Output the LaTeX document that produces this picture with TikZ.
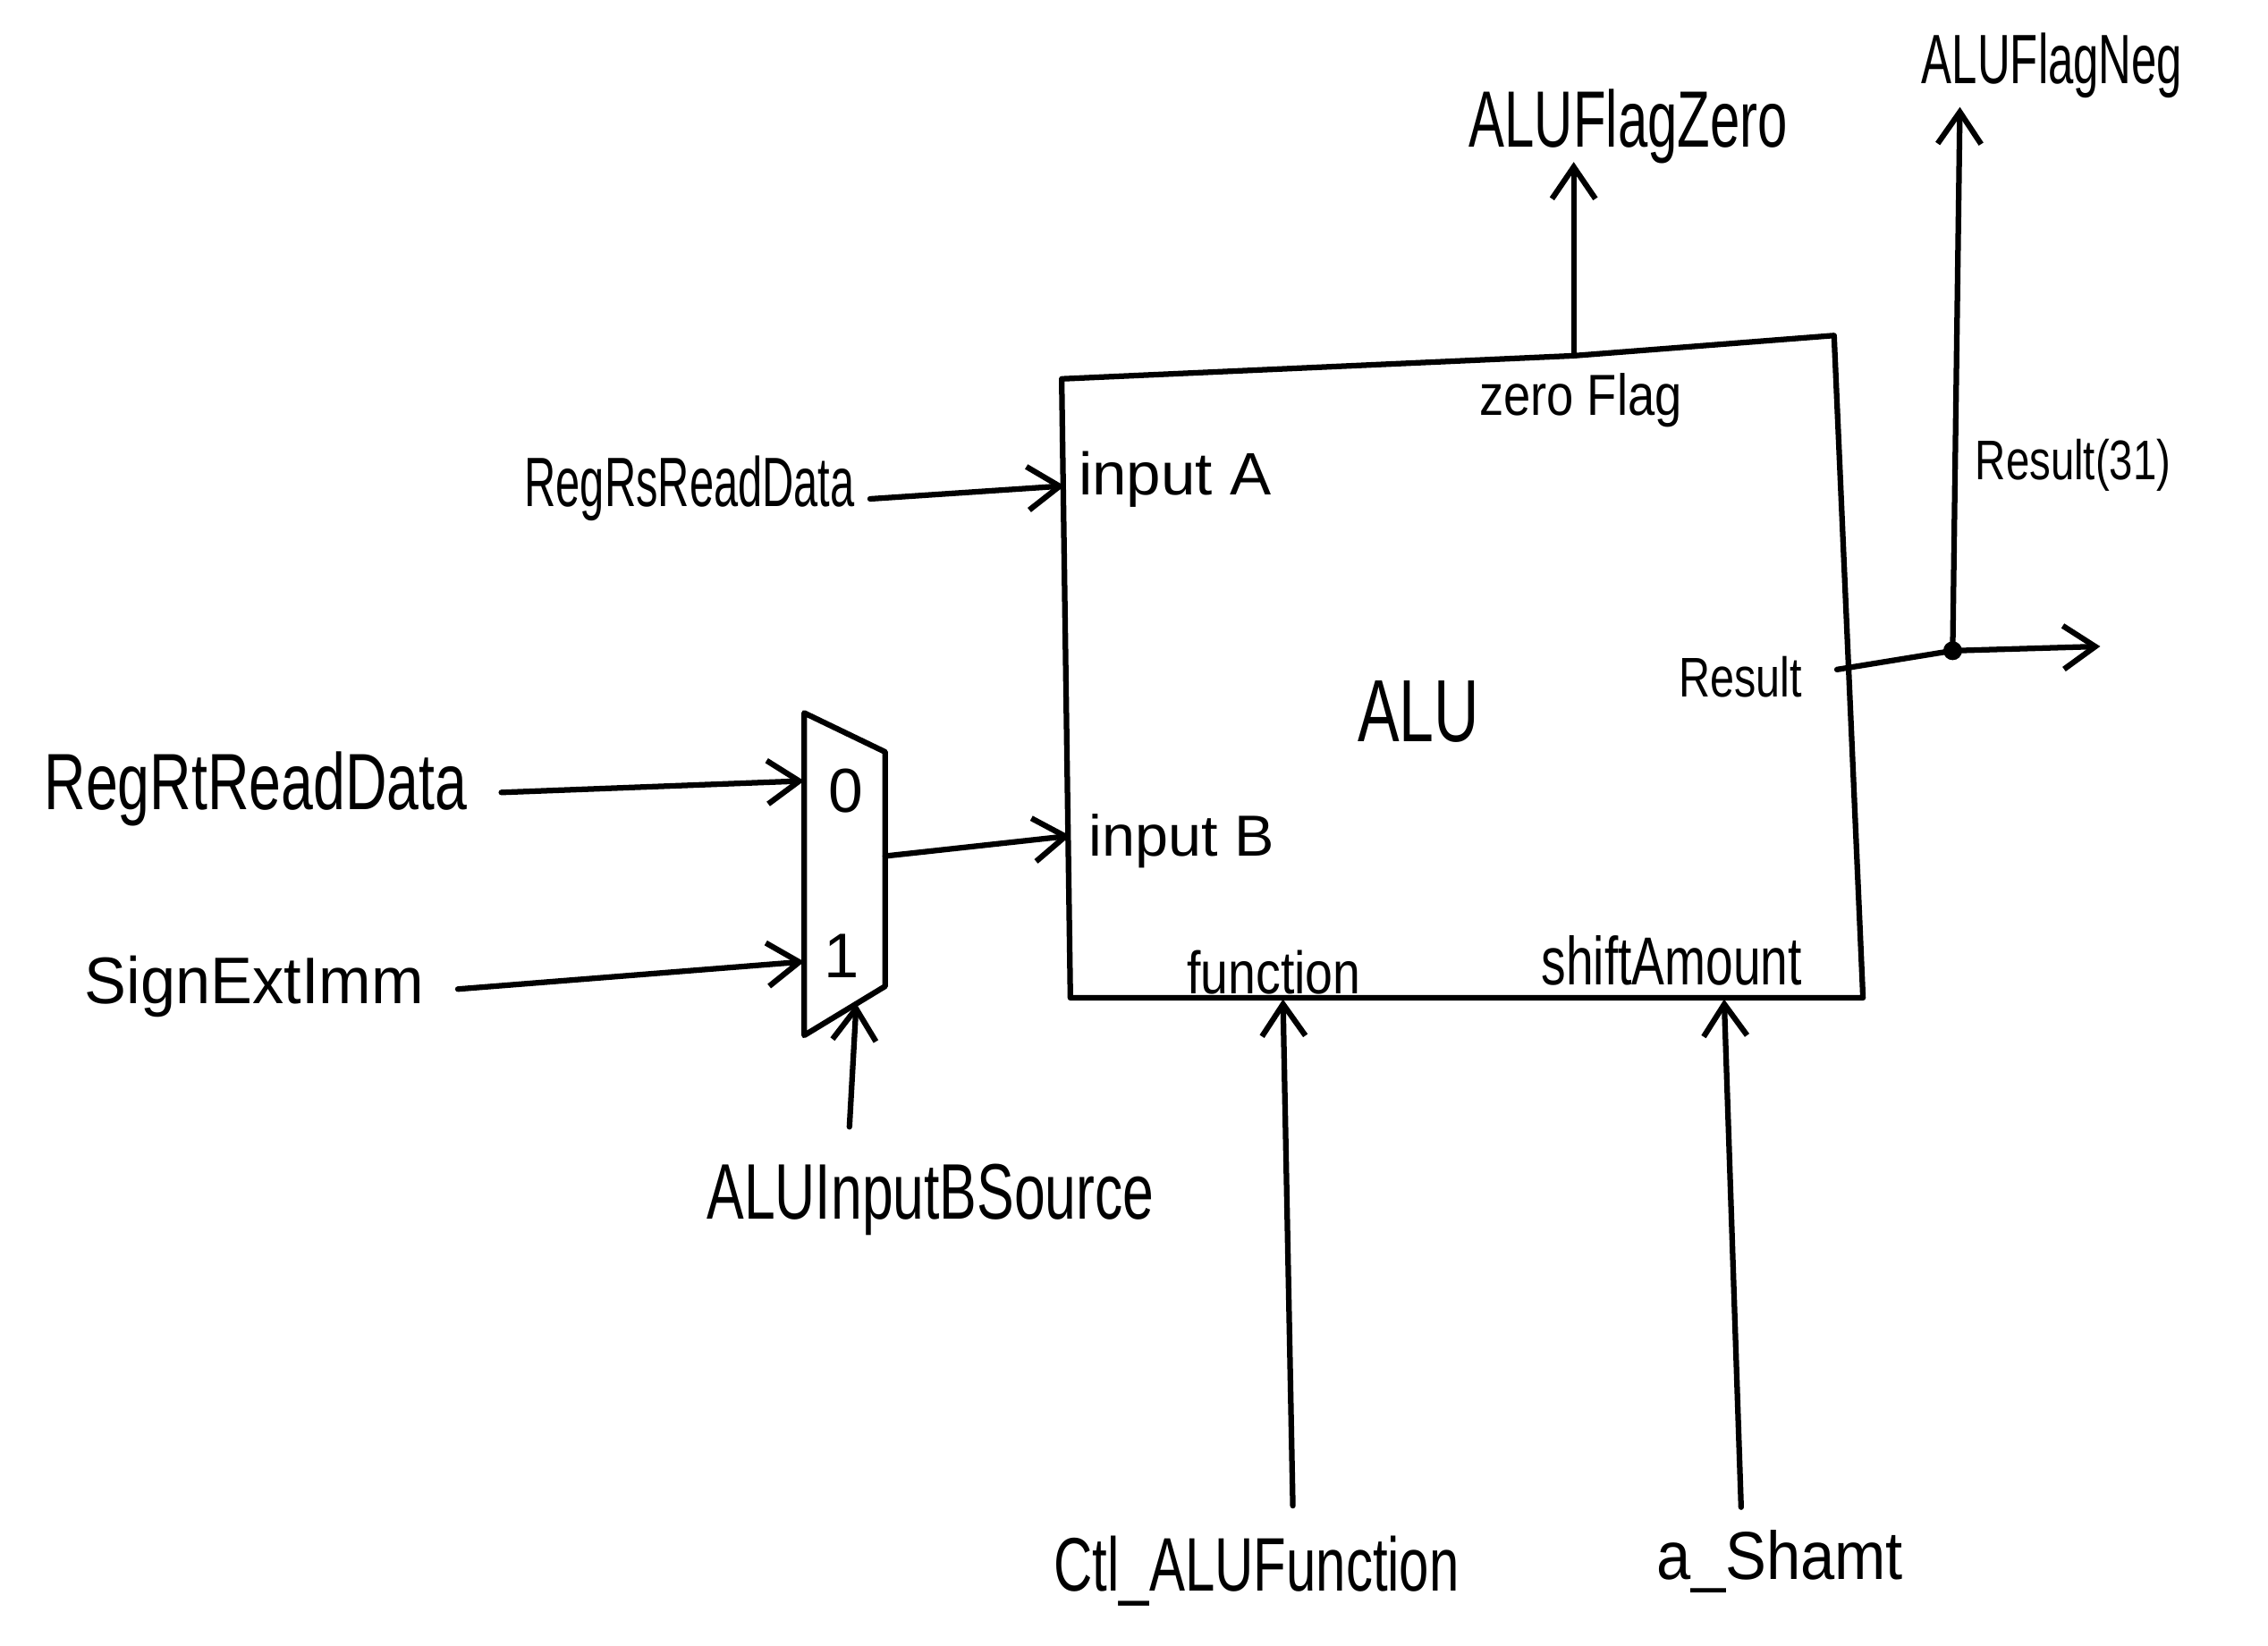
\documentclass[tikz,border=0pt]{standalone}
\usepackage{fontspec}
\setmainfont{Liberation Sans}
\usetikzlibrary{arrows.meta}
\newcommand{\lblwh}[3]{\resizebox{#1}{#2}{#3}}
\begin{document}
\begin{tikzpicture}[x=0.01cm,y=-0.01cm,
  wire/.style={line width=1.1pt,line cap=round,line join=round},
  arr/.style={wire,-{Straight Barb[length=2.2mm,width=3mm,line width=1.1pt]}},
  lbl/.style={inner sep=0pt,anchor=base west}]
\useasboundingbox (0,0) rectangle (1568,1138);

% ALU box
\coordinate (aTL) at (734,262);
\coordinate (pZ) at (1088,246);
\coordinate (aTR) at (1268,232);
\coordinate (aBR) at (1288,690);
\coordinate (aBL) at (740,690);
\draw[wire] (aTL) -- (pZ) -- (aTR) -- (aBR) -- (aBL) -- cycle;

% ports on ALU
\coordinate (pA) at (736,336);
\coordinate (pB) at (740,578);
\coordinate (pR) at (1270,463);
\coordinate (pF) at (887,691);
\coordinate (pS) at (1192,691);

% ALU inner labels
\node[lbl] (alu) at (938,513) {\lblwh{0.84cm}{0.42cm}{ALU}};
\node[lbl] (zf) at (1022,287) {\lblwh{1.40cm}{0.29cm}{zero Flag}};
\node[lbl] (inA) at (745,342) {\lblwh{1.33cm}{0.30cm}{input A}};
\node[lbl] (inB) at (752,592) {\lblwh{1.28cm}{0.29cm}{input B}};
\node[lbl] (res) at (1160,482) {\lblwh{0.85cm}{0.28cm}{Result}};
\node[lbl] (fun) at (820,687) {\lblwh{1.20cm}{0.30cm}{function}};
\node[lbl] (sam) at (1065,681) {\lblwh{1.80cm}{0.34cm}{shiftAmount}};

% Mux
\coordinate (mTL) at (556,493);
\coordinate (mTR) at (612,520);
\coordinate (mBR) at (612,682);
\coordinate (mBL) at (556,716);
\draw[wire] (mBL) -- (mTL) -- (mTR) -- (mBR) -- cycle;
\node[lbl] (m0lbl) at (572,562) {\resizebox{!}{0.30cm}{0}};
\node[lbl] (m1lbl) at (569,676) {\resizebox{!}{0.30cm}{1}};
\coordinate (m0) at (556,540);
\coordinate (m1) at (556,665);
\coordinate (mo) at (612,592);
\coordinate (msel) at (592,694);

% outside labels
\node[lbl] (rs) at (362,350) {\lblwh{2.28cm}{0.35cm}{RegRsReadData}};
\node[lbl] (rt) at (30,560) {\lblwh{2.92cm}{0.40cm}{RegRtReadData}};
\node[lbl] (sx) at (58,694) {\lblwh{2.34cm}{0.33cm}{SignExtImm}};
\node[lbl] (src) at (488,843) {\lblwh{3.09cm}{0.38cm}{ALUInputBSource}};
\node[lbl] (ctl) at (728,1100) {\lblwh{2.80cm}{0.38cm}{Ctl\_ALUFunction}};
\node[lbl] (sh) at (1145,1092) {\lblwh{1.70cm}{0.34cm}{a\_Shamt}};
\node[lbl] (fz) at (1015,102) {\lblwh{2.20cm}{0.40cm}{ALUFlagZero}};
\node[lbl] (fn) at (1328,58) {\lblwh{1.80cm}{0.35cm}{ALUFlagNeg}};
\node[lbl] (r31) at (1365,332) {\lblwh{1.35cm}{0.28cm}{Result(31)}};

% output points
\coordinate (dot) at (1350,450);
\coordinate (rout) at (1452,447);
\coordinate (zend) at (1088,112);
\coordinate (nend) at (1355,74);

% connectors
\draw[arr] ([xshift=0.1cm,yshift=0.05cm]rs.base east) -- (pA);
\draw[arr] ([xshift=0.23cm,yshift=0.12cm]rt.base east) -- (m0);
\draw[arr] ([xshift=0.23cm,yshift=0.1cm]sx.base east) -- (m1);
\draw[arr] (mo) -- (pB);
\draw[arr] ([xshift=-0.56cm,yshift=0.25cm]src.north) -- (msel);
\draw[arr] ([xshift=0.25cm,yshift=0.2cm]ctl.north) -- (pF);
\draw[arr] ([xshift=-0.27cm,yshift=0.15cm]sh.north) -- (pS);
\draw[arr] (pZ) -- (zend);
\draw[wire] (pR) -- (dot);
\draw[arr] (dot) -- (rout);
\draw[arr] (dot) -- (nend);
\fill (dot) circle (0.065cm);
\end{tikzpicture}
\end{document}
